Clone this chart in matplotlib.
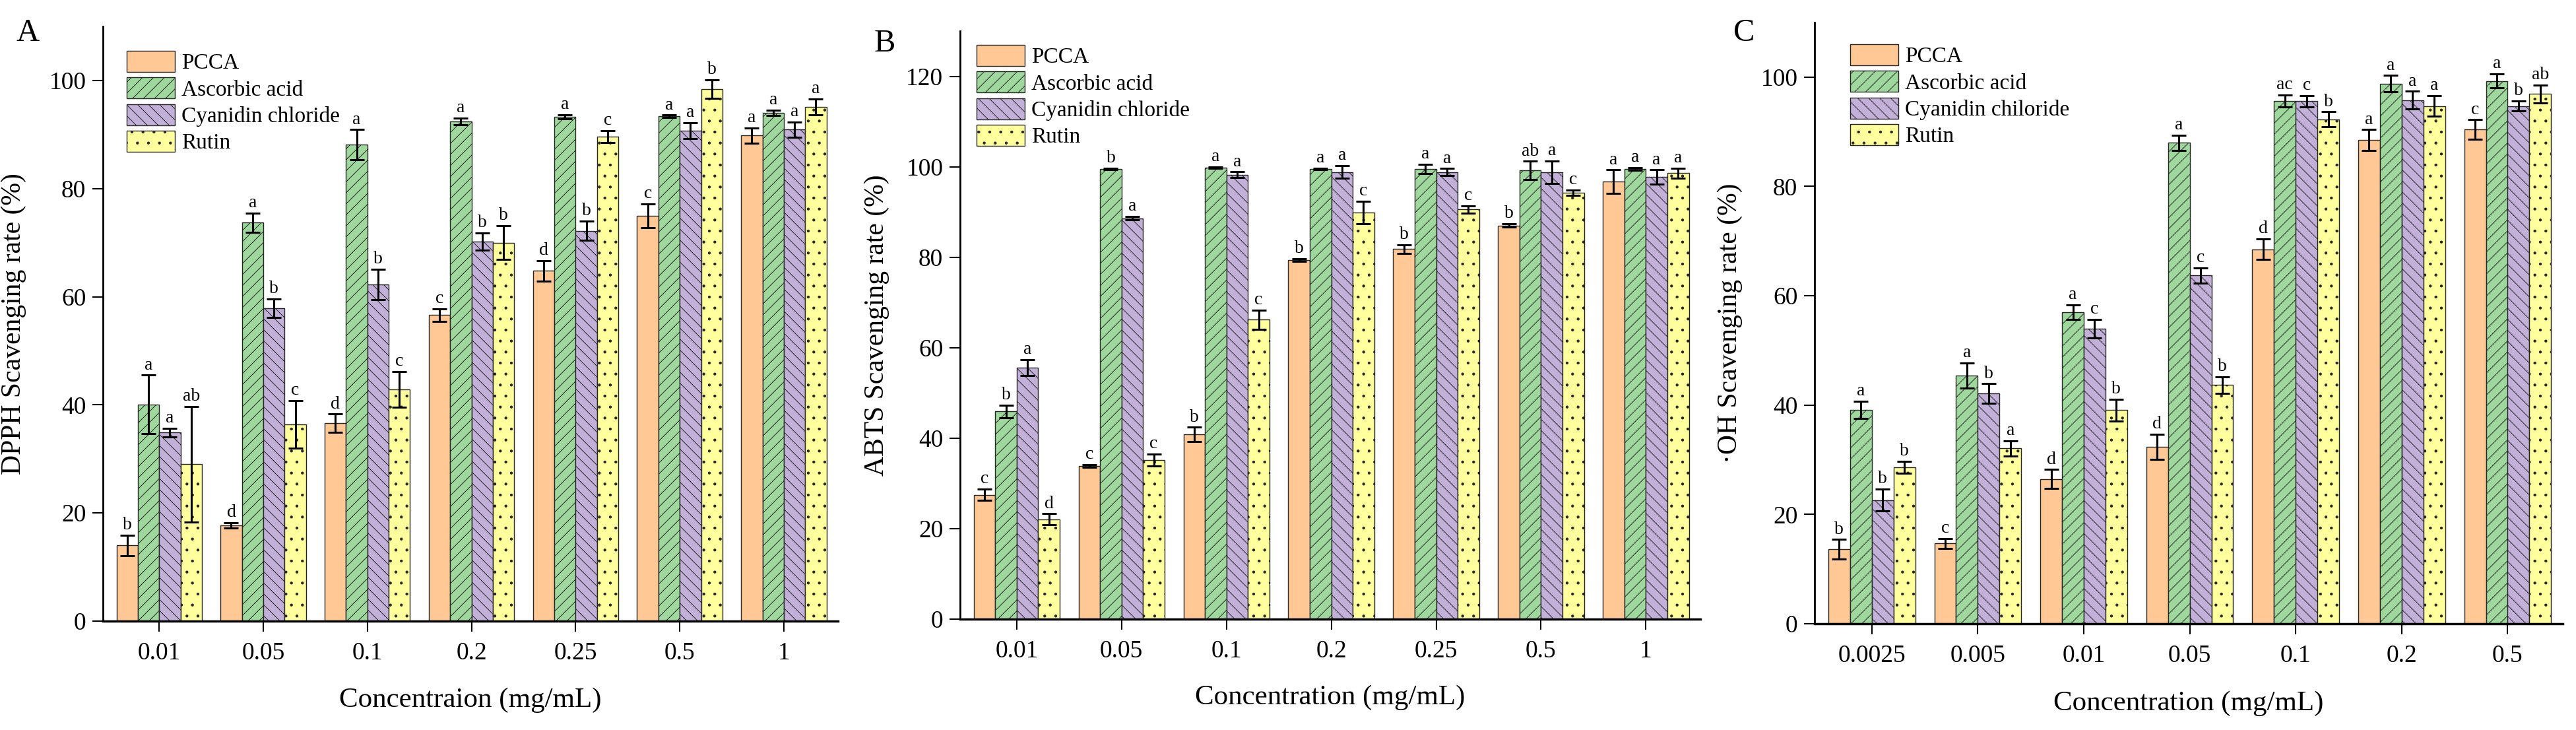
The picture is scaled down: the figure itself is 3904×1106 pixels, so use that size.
import numpy as np
import matplotlib
matplotlib.use('Agg')
import matplotlib.pyplot as plt

plt.rcParams['font.family'] = ['Liberation Serif', 'DejaVu Serif']
plt.rcParams['hatch.linewidth'] = 0.7

series = ['PCCA', 'Ascorbic acid', 'Cyanidin chloride', 'Rutin']
series_c = ['PCCA', 'Ascorbic acid', 'Cyanidin chiloride', 'Rutin']
colors = ['#FFC895', '#9ED89C', '#C2B0D8', '#FFFF9E']
hatches = ['', '//', '\\\\', '.']

# ---- A: DPPH
conc_a = ['0.01', '0.05', '0.1', '0.2', '0.25', '0.5', '1']
dpph_pcca = [14.0, 17.7, 36.6, 56.6, 64.8, 75.0, 89.8]
dpph_asc = [40.1, 73.7, 88.1, 92.4, 93.3, 93.4, 94.0]
dpph_cya = [34.9, 57.9, 62.3, 70.2, 72.2, 90.7, 90.9]
dpph_rut = [29.0, 36.4, 42.9, 70.0, 89.6, 98.4, 95.1]
dpph_pcca_err = [1.9, 0.5, 1.7, 1.2, 1.9, 2.2, 1.4]
dpph_asc_err = [5.4, 1.8, 2.8, 0.6, 0.4, 0.2, 0.5]
dpph_cya_err = [0.8, 1.7, 2.8, 1.6, 1.8, 1.5, 1.4]
dpph_rut_err = [10.7, 4.4, 3.3, 3.1, 1.1, 1.7, 1.5]
dpph_pcca_lbl = ['b', 'd', 'd', 'c', 'd', 'c', 'a']
dpph_asc_lbl = ['a', 'a', 'a', 'a', 'a', 'a', 'a']
dpph_cya_lbl = ['a', 'b', 'b', 'b', 'b', 'a', 'a']
dpph_rut_lbl = ['ab', 'c', 'c', 'b', 'c', 'b', 'a']

# ---- B: ABTS
conc_b = ['0.01', '0.05', '0.1', '0.2', '0.25', '0.5', '1']
abts_pcca = [27.5, 33.9, 40.8, 79.4, 81.8, 87.0, 96.7]
abts_asc = [45.9, 99.5, 99.8, 99.5, 99.5, 99.2, 99.5]
abts_cya = [55.6, 88.6, 98.2, 98.8, 98.8, 98.8, 97.7]
abts_rut = [22.1, 35.2, 66.2, 89.9, 90.6, 94.2, 98.6]
abts_pcca_err = [1.3, 0.3, 1.6, 0.3, 1.0, 0.4, 2.6]
abts_asc_err = [1.4, 0.2, 0.2, 0.2, 1.0, 2.0, 0.3]
abts_cya_err = [1.75, 0.4, 0.65, 1.4, 0.8, 2.5, 1.6]
abts_rut_err = [1.2, 1.3, 2.1, 2.5, 0.8, 0.6, 1.1]
abts_pcca_lbl = ['c', 'c', 'b', 'b', 'b', 'b', 'a']
abts_asc_lbl = ['b', 'b', 'a', 'a', 'a', 'ab', 'a']
abts_cya_lbl = ['a', 'a', 'a', 'a', 'a', 'a', 'a']
abts_rut_lbl = ['d', 'c', 'c', 'c', 'c', 'c', 'a']

# ---- C: OH
conc_c = ['0.0025', '0.005', '0.01', '0.05', '0.1', '0.2', '0.5']
oh_pcca = [13.6, 14.7, 26.5, 32.4, 68.5, 88.5, 90.4]
oh_asc = [39.1, 45.4, 57.0, 88.0, 95.6, 98.8, 99.3]
oh_cya = [22.6, 42.1, 54.0, 63.7, 95.6, 95.8, 94.7]
oh_rut = [28.6, 32.1, 39.1, 43.7, 92.3, 94.7, 96.9]
oh_pcca_err = [1.8, 0.9, 1.7, 2.3, 1.9, 1.9, 1.8]
oh_asc_err = [1.6, 2.35, 1.35, 1.4, 1.1, 1.5, 1.3]
oh_cya_err = [2.0, 1.8, 1.7, 1.35, 1.0, 1.6, 0.9]
oh_rut_err = [1.1, 1.4, 2.0, 1.5, 1.35, 1.9, 1.6]
oh_pcca_lbl = ['b', 'c', 'd', 'd', 'd', 'a', 'c']
oh_asc_lbl = ['a', 'a', 'a', 'a', 'ac', 'a', 'a']
oh_cya_lbl = ['b', 'b', 'c', 'c', 'c', 'a', 'b']
oh_rut_lbl = ['b', 'a', 'b', 'b', 'b', 'a', 'ab']

W, H = 3904, 1106
fig = plt.figure(figsize=(W / 100, H / 100), dpi=100)


def px_rect(x0, x1, ytop, ybot):
    return [x0 / W, (H - ybot) / H, (x1 - x0) / W, (ybot - ytop) / H]


def panel(rect, cats, vals, errs, lbls, ymax, yticks, ylabel, xlabel, names, leg_xy, ylab_x):
    ax = fig.add_axes(rect)
    x = np.arange(len(cats))
    bw = 0.205
    for i in range(4):
        xs = x + (i - 1.5) * bw
        ax.bar(xs, vals[i], bw, color=colors[i], edgecolor='#262626', linewidth=1.0,
               hatch=hatches[i], label=names[i], zorder=2)
        ax.errorbar(xs, vals[i], yerr=errs[i], fmt='none', ecolor='black',
                    elinewidth=2.2, capsize=8, capthick=2.2, zorder=3)
        for xx, v, e, t in zip(xs, vals[i], errs[i], lbls[i]):
            ax.annotate(t, (xx, v + e), xytext=(0, 2), textcoords='offset points',
                        ha='center', va='bottom', fontsize=20)
    ax.set_xlim(-0.54, len(cats) - 0.48)
    ax.set_ylim(0, ymax)
    ax.set_yticks(yticks)
    ax.set_xticks(x)
    ax.set_xticklabels(cats)
    ax.spines['top'].set_visible(False)
    ax.spines['right'].set_visible(False)
    ax.spines['left'].set_linewidth(2.0)
    ax.spines['bottom'].set_linewidth(2.5)
    ax.tick_params(axis='both', direction='out', length=11.5, width=1.5, labelsize=27)
    ax.tick_params(axis='x', pad=11)
    ax.tick_params(axis='y', pad=7)
    ax.set_ylabel(ylabel, fontsize=30)
    ax.yaxis.set_label_coords(ylab_x, 0.5)
    ax.set_xlabel(xlabel, fontsize=31, va='center')
    ax.xaxis.set_label_coords(0.5, -0.133)
    ax.legend(loc='upper left', bbox_to_anchor=(leg_xy[0] / W, 1 - leg_xy[1] / H),
              bbox_transform=fig.transFigure, frameon=False, fontsize=24,
              borderpad=0, borderaxespad=0, handlelength=2.2, handleheight=1.1,
              handletextpad=0.3, labelspacing=0.18)
    return ax


axA = panel(px_rect(156, 1270, 40, 941), conc_a,
            [dpph_pcca, dpph_asc, dpph_cya, dpph_rut],
            [dpph_pcca_err, dpph_asc_err, dpph_cya_err, dpph_rut_err],
            [dpph_pcca_lbl, dpph_asc_lbl, dpph_cya_lbl, dpph_rut_lbl],
            110, [0, 20, 40, 60, 80, 100], 'DPPH Scavenging rate (%)',
            'Concentraion (mg/mL)', series, (192, 77), -0.104)

axB = panel(px_rect(1455, 2577, 47, 938), conc_b,
            [abts_pcca, abts_asc, abts_cya, abts_rut],
            [abts_pcca_err, abts_asc_err, abts_cya_err, abts_rut_err],
            [abts_pcca_lbl, abts_asc_lbl, abts_cya_lbl, abts_rut_lbl],
            130, [0, 20, 40, 60, 80, 100, 120], 'ABTS Scavenging rate (%)',
            'Concentration (mg/mL)', series, (1480, 68), -0.095)

axC = panel(px_rect(2750, 3884, 34, 945), conc_c,
            [oh_pcca, oh_asc, oh_cya, oh_rut],
            [oh_pcca_err, oh_asc_err, oh_cya_err, oh_rut_err],
            [oh_pcca_lbl, oh_asc_lbl, oh_cya_lbl, oh_rut_lbl],
            110, [0, 20, 40, 60, 80, 100], '·OH Scavenging rate (%)',
            'Concentration (mg/mL)', series_c, (2804, 67), -0.096)

for lbl, px, py in [('A', 42, 50), ('B', 1341, 66), ('C', 2643, 50)]:
    fig.text(px / W, 1 - py / H, lbl, fontsize=35, ha='center', va='center')

fig.savefig('out.png', dpi=100)
